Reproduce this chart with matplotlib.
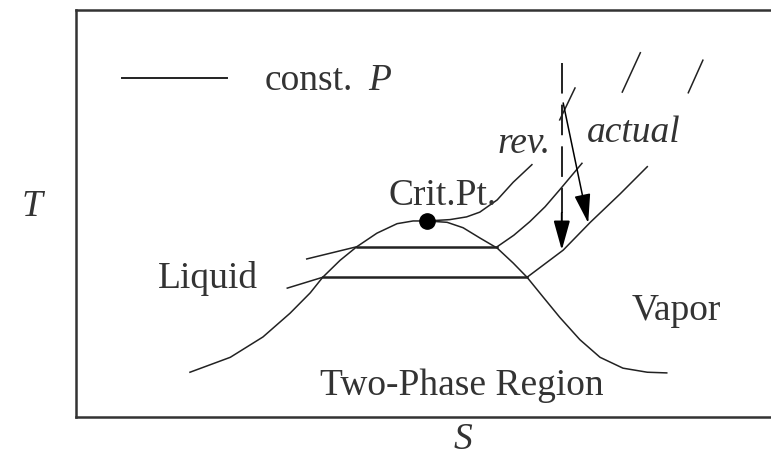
import matplotlib
matplotlib.use('Agg')
import matplotlib.pyplot as plt

# T-s sketch, axes units: S in [0, 10], T in [0, 6]
dome_s = [1.64, 2.22, 2.69, 3.08, 3.37, 3.55, 3.80, 4.04, 4.33, 4.62, 4.85, 5.05, 5.34, 5.57, 5.81, 6.06, 6.29, 6.49, 6.72, 6.96, 7.25, 7.54, 7.87, 8.22, 8.50]
dome_t = [0.66, 0.88, 1.18, 1.53, 1.83, 2.06, 2.31, 2.51, 2.71, 2.85, 2.89, 2.89, 2.87, 2.79, 2.64, 2.49, 2.27, 2.06, 1.77, 1.47, 1.14, 0.88, 0.72, 0.66, 0.65]

# low pressure isobar: liquid stub, flat part, vapour branch
lowp_liq_s = [3.04, 3.55]
lowp_liq_t = [1.90, 2.06]
lowp_flat_s = [3.55, 6.49]
lowp_flat_t = [2.06, 2.06]
lowp_vap_s = [6.49, 6.75, 7.01, 7.40, 7.83, 8.22]
lowp_vap_t = [2.06, 2.26, 2.46, 2.87, 3.29, 3.69]

# high pressure isobar
highp_liq_s = [3.32, 4.04]
highp_liq_t = [2.33, 2.51]
highp_flat_s = [4.04, 6.06]
highp_flat_t = [2.51, 2.51]
highp_vap_s = [6.06, 6.30, 6.53, 6.75, 6.96, 7.28]
highp_vap_t = [2.51, 2.68, 2.88, 3.10, 3.35, 3.74]

# critical isobar
crit_s = [5.05, 5.38, 5.62, 5.81, 6.06, 6.29, 6.56]
crit_t = [2.89, 2.91, 2.95, 3.02, 3.20, 3.46, 3.72]
crit_pt = (5.05, 2.89)

# turbine expansion: reversible (vertical) and actual
rev_s = [6.99, 6.99]
rev_t = [5.22, 2.46]
act_s = [7.01, 7.37]
act_t = [4.63, 2.86]

# short dashes of the higher isobars above
hi_dash_s = [[6.96, 7.18], [7.86, 8.12], [8.81, 9.02]]
hi_dash_t = [[4.38, 4.85], [4.79, 5.37], [4.78, 5.26]]

legend_s = [0.66, 2.17]
legend_t = [5.00, 5.00]

plt.rcParams['font.family'] = ['Liberation Serif', 'DejaVu Serif']
plt.rcParams['lines.scale_dashes'] = False
plt.rcParams['lines.solid_joinstyle'] = 'round'
ink = '#222222'
txt = '#333333'
fs = 27

fig = plt.figure(figsize=(7.71, 4.57), dpi=100)
ax = fig.add_axes([76/771, 40/457, 695/771, 407/457])
ax.set_xlim(0, 10)
ax.set_ylim(0, 6)
ax.set_xticks([])
ax.set_yticks([])
ax.spines['right'].set_visible(False)
for sp in ['left', 'top', 'bottom']:
    ax.spines[sp].set_linewidth(1.8)
    ax.spines[sp].set_color('#333333')

lw = 1.1
ax.plot(dome_s, dome_t, color=ink, lw=lw)
ax.plot(lowp_liq_s, lowp_liq_t, color=ink, lw=lw)
ax.plot(lowp_flat_s, lowp_flat_t, color=ink, lw=1.8)
ax.plot(lowp_vap_s, lowp_vap_t, color=ink, lw=lw)
ax.plot(highp_liq_s, highp_liq_t, color=ink, lw=lw)
ax.plot(highp_flat_s, highp_flat_t, color=ink, lw=1.8)
ax.plot(highp_vap_s, highp_vap_t, color=ink, lw=lw)
ax.plot(crit_s, crit_t, color=ink, lw=lw)
ax.plot([crit_pt[0]], [crit_pt[1]], 'o', color='black', ms=11)
for s, t in zip(hi_dash_s, hi_dash_t):
    ax.plot(s, t, color=ink, lw=lw)

# reversible path: dashed shaft, arrow head at the end
head = 0.55
ax.plot(rev_s, [rev_t[0], rev_t[1] + head], color=ink, lw=1.4, dashes=(22, 8))
ax.annotate('', xy=(rev_s[1], rev_t[1]), xytext=(rev_s[0], rev_t[1] + head),
            arrowprops=dict(arrowstyle='-|>,head_length=1.8,head_width=0.5',
                            color='black', lw=1.4, mutation_scale=10, shrinkA=0, shrinkB=0))
ax.annotate('', xy=(act_s[1], act_t[1]), xytext=(act_s[0], act_t[0]),
            arrowprops=dict(arrowstyle='-|>,head_length=1.8,head_width=0.5',
                            color='black', lw=1.1, mutation_scale=10, shrinkA=0, shrinkB=0))

ax.plot(legend_s, legend_t, color=ink, lw=1.4)
ax.text(2.72, 4.82, 'const.', fontsize=fs, color=txt, ha='left', va='baseline')
ax.text(4.20, 4.82, 'P', fontsize=fs, color=txt, style='italic', ha='left', va='baseline')
ax.text(1.18, 1.90, 'Liquid', fontsize=fs, color=txt, ha='left', va='baseline')
ax.text(4.49, 3.13, 'Crit.Pt.', fontsize=fs, color=txt, ha='left', va='baseline')
ax.text(8.00, 1.43, 'Vapor', fontsize=fs, color=txt, ha='left', va='baseline')
ax.text(3.51, 0.32, 'Two-Phase Region', fontsize=fs, color=txt, ha='left', va='baseline')
ax.text(6.07, 3.89, 'rev.', fontsize=fs, color=txt, style='italic', ha='left', va='baseline')
ax.text(7.35, 4.05, 'actual', fontsize=fs, color=txt, style='italic', ha='left', va='baseline')
ax.text(-0.63, 3.10, 'T', fontsize=fs, color=txt, style='italic', ha='center', va='center')
ax.text(5.57, -0.34, 'S', fontsize=fs, color=txt, style='italic', ha='center', va='center')

fig.savefig('out.png', dpi=100)
